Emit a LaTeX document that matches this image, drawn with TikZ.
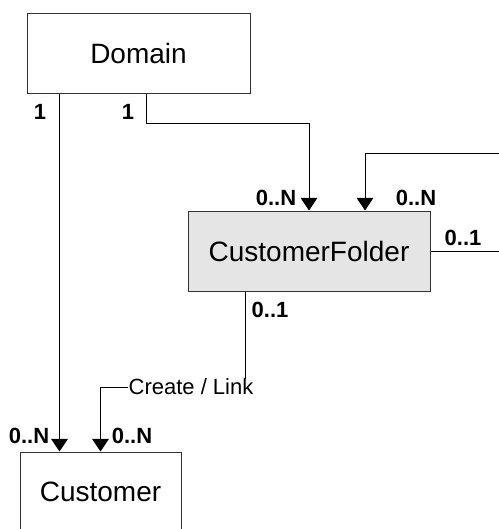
\documentclass[tikz,border=0pt]{standalone}
\usepackage{fontspec}
\setmainfont{Liberation Sans}
\usetikzlibrary{arrows.meta, positioning, calc}

\begin{document}
\begin{tikzpicture}[
    x=0.75pt, y=-0.75pt,
    entity/.style={draw=black!80, line width=0.75pt, minimum height=60pt, inner sep=0pt,
                   font=\fontsize{21}{25}\selectfont},
    folder/.style={entity, fill=gray!20},
    mult/.style={font=\fontsize{16.5}{19}\selectfont\bfseries, inner sep=0pt},
    link/.style={line width=0.75pt},
    arrow/.style={link, -{Triangle[length=9.5pt, width=12.5pt]}},
]
\useasboundingbox (0,0) rectangle (499,529);
\clip (0,0) rectangle (499,529);

% Entities
\node[entity, minimum width=167.25pt] (domain) at (138.5,53) {Domain};
\node[folder, minimum width=181.5pt] (custfolder) at (309,251) {CustomerFolder};
\node[entity, minimum width=120.75pt] (customer) at (100.5,492) {Customer};

\coordinate (domleft) at ($(domain.south west)+(33,0)$);
\coordinate (domright) at ($(domain.south west)+(120,0)$);
\coordinate (folderdown) at ($(custfolder.south west)+(58,0)$);
\coordinate (folderloop) at ($(custfolder.north)+(56,0)$);

\node[font=\fontsize{16.5}{19}\selectfont, inner sep=0pt] (createlink) at (191,387) {Create / Link};

% Connectors
\draw[arrow] (domleft) -- (domleft |- customer.north);
\draw[arrow] (domright) -- ++(0,30) -| (custfolder.north);
\draw[arrow] (custfolder.east) -- ++(95,0) |- ($(folderloop)+(0,-57)$) -- (folderloop);
\draw[link] (folderdown) -- (folderdown |- createlink.north);
\draw[arrow] (createlink.west) -| (customer.north);

% Multiplicities
\node[mult] (mdomcust) at (40,112) {1};
\node[mult] (mdomfolder) at (128,112) {1};
\node[mult] (mfolderin) at (276,198) {0..N};
\node[mult] (mloopin) at (416,198) {0..N};
\node[mult] (mloopout) at (463,238) {0..1};
\node[mult] (mfolderout) at (270,310) {0..1};
\node[mult] (mcustdom) at (29,436) {0..N};
\node[mult] (mcustfolder) at (132,436) {0..N};

\end{tikzpicture}
\end{document}
